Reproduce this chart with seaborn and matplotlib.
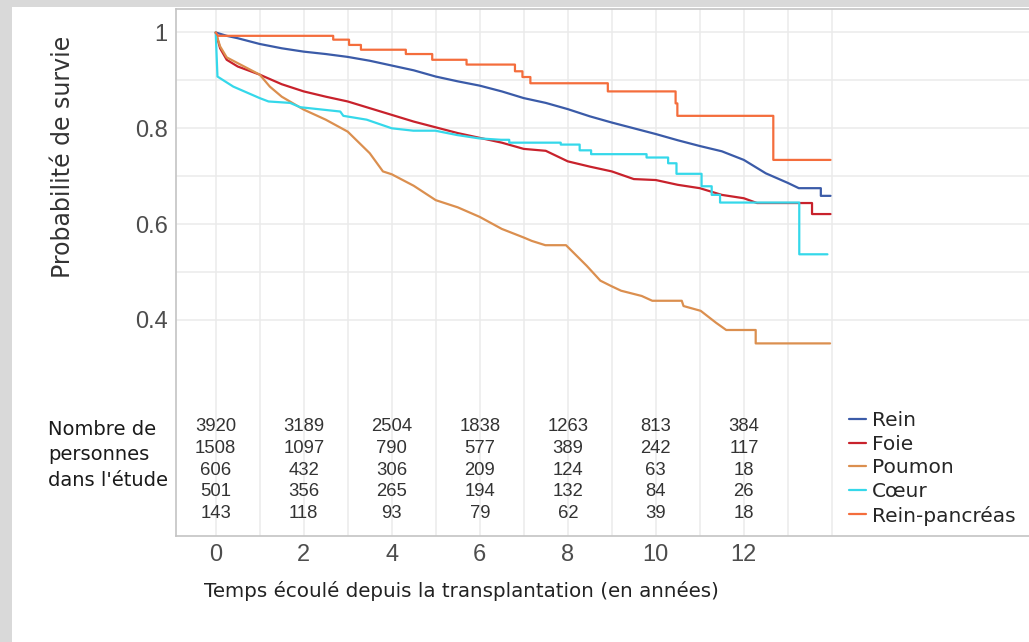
import numpy as np
import pandas as pd
import matplotlib
matplotlib.use("Agg")
import matplotlib.pyplot as plt
from matplotlib.patches import Rectangle
import seaborn as sns

# survival curves (time in years, survival probability); repeated times = vertical steps
rein_t = [0, 0.25, 0.5, 1, 1.5, 2, 2.5, 3, 3.5, 4, 4.5, 5, 5.5, 6, 6.5, 7, 7.5, 8, 8.5,
          9, 9.5, 10, 10.5, 11, 11.5, 12, 12.5, 13, 13.25, 13.75, 13.75, 13.97]
rein_s = [1.0, 0.993, 0.988, 0.976, 0.967, 0.960, 0.955, 0.949, 0.941, 0.931, 0.921, 0.908,
          0.898, 0.889, 0.877, 0.863, 0.853, 0.840, 0.825, 0.812, 0.800, 0.788, 0.775, 0.763,
          0.752, 0.734, 0.706, 0.686, 0.675, 0.675, 0.659, 0.659]

foie_t = [0, 0.1, 0.25, 0.5, 1, 1.5, 2, 2.5, 3, 3.5, 4, 4.5, 5, 5.5, 6, 6.5, 7, 7.5, 8, 8.5,
          9, 9.5, 10, 10.5, 11, 11.5, 12, 12.3, 13.55, 13.55, 13.97]
foie_s = [1.0, 0.967, 0.943, 0.929, 0.912, 0.892, 0.877, 0.866, 0.856, 0.842, 0.828, 0.814,
          0.802, 0.790, 0.780, 0.770, 0.757, 0.753, 0.731, 0.720, 0.710, 0.694, 0.692, 0.682,
          0.675, 0.661, 0.654, 0.644, 0.644, 0.621, 0.621]

poumon_t = [0, 0.1, 0.25, 0.5, 1, 1.23, 1.5, 2, 2.5, 3, 3.5, 3.8, 4, 4.5, 5, 5.5, 6, 6.5, 7,
            7.18, 7.49, 7.96, 8.43, 8.74, 8.98, 9.21, 9.68, 9.92, 10.59, 10.63, 11.02, 11.37,
            11.6, 12.27, 12.27, 13.96]
poumon_s = [1.0, 0.971, 0.948, 0.936, 0.912, 0.887, 0.866, 0.839, 0.818, 0.793, 0.748, 0.710,
            0.704, 0.680, 0.650, 0.635, 0.615, 0.590, 0.572, 0.565, 0.556, 0.556, 0.513, 0.482,
            0.471, 0.461, 0.450, 0.440, 0.440, 0.429, 0.419, 0.394, 0.379, 0.379, 0.351, 0.351]

coeur_t = [0, 0.04, 0.4, 1.0, 1.2, 1.69, 1.92, 2.83, 2.9, 3.43, 4.0, 4.49, 4.99, 5.48, 5.98,
           6.48, 6.67, 6.67, 7.84, 7.84, 8.27, 8.27, 8.53, 8.53, 9.79, 9.79, 10.28, 10.28,
           10.47, 10.47, 11.04, 11.04, 11.27, 11.27, 11.46, 11.46, 13.26, 13.26, 13.9]
coeur_s = [1.0, 0.908, 0.887, 0.863, 0.856, 0.853, 0.844, 0.835, 0.826, 0.818, 0.800, 0.795,
           0.795, 0.786, 0.779, 0.776, 0.776, 0.770, 0.770, 0.766, 0.766, 0.754, 0.754, 0.746,
           0.746, 0.739, 0.739, 0.727, 0.727, 0.705, 0.705, 0.679, 0.679, 0.661, 0.661, 0.645,
           0.645, 0.537, 0.537]

rp_t = [0, 0.05, 2.67, 2.67, 3.03, 3.03, 3.30, 3.30, 4.32, 4.32, 4.92, 4.92, 5.70, 5.70,
        6.80, 6.80, 6.97, 6.97, 7.15, 7.15, 8.91, 8.91, 10.45, 10.45, 10.49, 10.49, 12.67,
        12.67, 13.97]
rp_s = [1.0, 0.993, 0.993, 0.985, 0.985, 0.974, 0.974, 0.964, 0.964, 0.955, 0.955, 0.943,
        0.943, 0.933, 0.933, 0.919, 0.919, 0.907, 0.907, 0.894, 0.894, 0.877, 0.877, 0.852,
        0.852, 0.826, 0.826, 0.734, 0.734]

organs = ["Rein", "Foie", "Poumon", "Cœur", "Rein-pancréas"]
colors = ["#3b5ba8", "#c8222c", "#db8f4f", "#35d8ea", "#f46d3c"]

# number at risk
risk_times = [0, 2, 4, 6, 8, 10, 12]
risk_rein = [3920, 3189, 2504, 1838, 1263, 813, 384]
risk_foie = [1508, 1097, 790, 577, 389, 242, 117]
risk_poumon = [606, 432, 306, 209, 124, 63, 18]
risk_coeur = [501, 356, 265, 194, 132, 84, 26]
risk_rp = [143, 118, 93, 79, 62, 39, 18]

curves = [(rein_t, rein_s), (foie_t, foie_s), (poumon_t, poumon_s),
          (coeur_t, coeur_s), (rp_t, rp_s)]
frames = []
for name, (t, s) in zip(organs, curves):
    frames.append(pd.DataFrame({"temps": t, "survie": s, "organe": name}))
df = pd.concat(frames, ignore_index=True)

sns.set_style("white")
plt.rcParams["font.family"] = ["Liberation Sans", "DejaVu Sans"]
txt_font = ["DejaVu Sans"]

fig = plt.figure(figsize=(10.29, 6.42), dpi=100)
fig.patch.set_facecolor("#d9d9d9")
fig.add_artist(Rectangle((12 / 1029, 0), 1, 1 - 7 / 642, transform=fig.transFigure,
                         facecolor="white", edgecolor="none", zorder=0))

ax = fig.add_axes([176 / 1029, 106 / 642, 853 / 1029, 527 / 642])
ax.set_facecolor("white")

# grid
for v in np.arange(0.4, 1.01, 0.1):
    ax.axhline(v, color="#ebebeb", lw=1.1, zorder=0)
for v in range(0, 15):
    ax.axvline(v, color="#ebebeb", lw=1.1, zorder=0)

sns.lineplot(data=df, x="temps", y="survie", hue="organe", hue_order=organs,
             palette=colors, sort=False, estimator=None, lw=1.6, ax=ax)

ax.set_xlim(-0.902, 18.48)
ax.set_ylim(-0.051, 1.049)
ax.set_xticks(risk_times)
ax.set_xticklabels([str(t) for t in risk_times])
ax.set_yticks([0.4, 0.6, 0.8, 1.0])
ax.set_yticklabels(["0.4", "0.6", "0.8", "1"])
ax.set_yticks([0.177], minor=True)
ax.tick_params(axis="both", which="both", length=3, color="#aaaaaa", labelsize=17,
               labelcolor="#4d4d4d", pad=3)
ax.set_xlabel("")
ax.set_ylabel("")
for side in ["left", "bottom", "top"]:
    ax.spines[side].set_color("#c4c4c4")
    ax.spines[side].set_linewidth(1.2)
ax.spines["right"].set_visible(False)

# risk table
risk_rows = [risk_rein, risk_foie, risk_poumon, risk_coeur, risk_rp]
for i, row in enumerate(risk_rows):
    for t, n in zip(risk_times, row):
        ax.text(t, 0.177 - i * 0.0452, str(n), ha="center", va="center",
                fontsize=13.3, color="#333333")

fig.text(48 / 1029, 1 - 420 / 642, "Nombre de\npersonnes\ndans l'étude",
         ha="left", va="top", fontsize=14, color="#1a1a1a", family=txt_font,
         linespacing=1.42)

fig.text(63 / 1029, 1 - 157 / 642, "Probabilité de survie", rotation=90,
         ha="center", va="center", fontsize=17, color="#333333", family=txt_font)

fig.text(461 / 1029, 1 - 591 / 642,
         "Temps écoulé depuis la transplantation (en années)",
         ha="center", va="center", fontsize=14.3, color="#222222", family=txt_font)

sns.move_legend(ax, loc="upper left", bbox_to_anchor=(849 / 1029, 1 - 411 / 642),
                bbox_transform=fig.transFigure, frameon=False, title=None,
                handlelength=0.85, handletextpad=0.3, labelspacing=0.23,
                borderpad=0, borderaxespad=0,
                prop={"family": txt_font, "size": 14.5})

fig.savefig("out.png", dpi=100, facecolor=fig.get_facecolor())
